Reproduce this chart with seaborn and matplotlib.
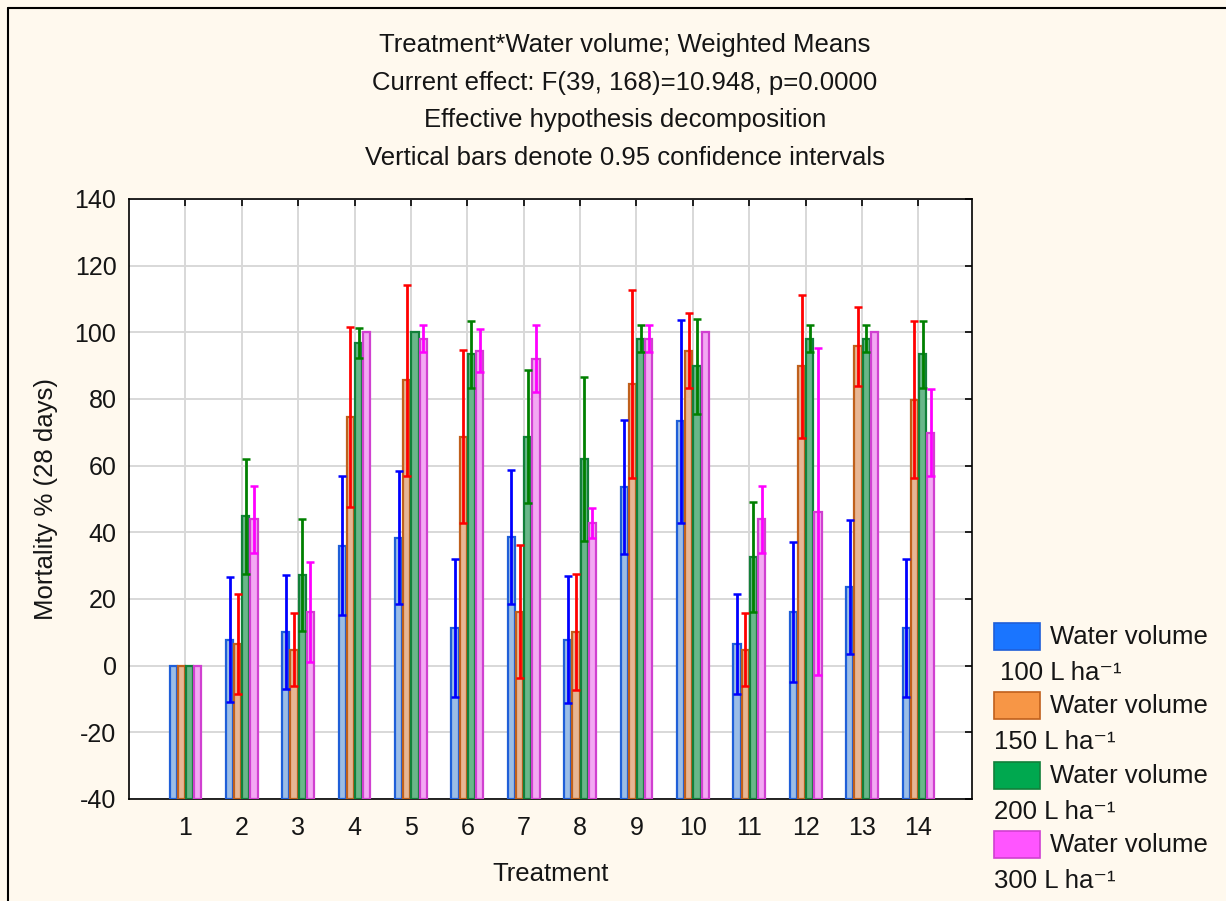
import numpy as np
import pandas as pd
import matplotlib
matplotlib.use("Agg")
import matplotlib.pyplot as plt
import seaborn as sns
from matplotlib.patches import Rectangle
from matplotlib.lines import Line2D

treatments = [str(i) for i in range(1, 15)]
volumes = ["100", "150", "200", "300"]

mean_100 = [0, 7.8, 10.1, 36.0, 38.4, 11.3, 38.6, 7.8, 53.6, 73.3, 6.6, 16.0, 23.6, 11.3]
ci_100 = [0, 18.8, 17.0, 20.8, 20.0, 20.7, 20.0, 19.0, 20.0, 30.5, 15.0, 21.0, 20.0, 20.7]
mean_150 = [0, 6.6, 4.8, 74.5, 85.6, 68.7, 16.2, 10.1, 84.5, 94.5, 4.8, 89.8, 95.8, 79.8]
ci_150 = [0, 15.0, 11.0, 27.0, 28.6, 26.0, 20.0, 17.3, 28.2, 11.2, 11.0, 21.5, 11.8, 23.5]
mean_200 = [0, 44.8, 27.2, 96.8, 100, 93.4, 68.7, 62.1, 98.1, 89.8, 32.5, 98.1, 98.1, 93.4]
ci_200 = [0, 17.2, 16.7, 4.5, 0, 10.0, 20.0, 24.6, 4.0, 14.3, 16.5, 4.0, 4.0, 10.0]
mean_300 = [0, 43.9, 16.0, 100, 98.1, 94.5, 92.1, 42.7, 98.1, 100, 43.9, 46.2, 100, 69.9]
ci_300 = [0, 10.0, 15.0, 0, 4.0, 6.5, 10.0, 4.5, 4.0, 0, 10.0, 49.0, 0, 13.0]

means = [mean_100, mean_150, mean_200, mean_300]
cis = [ci_100, ci_150, ci_200, ci_300]

title_lines = ["Treatment*Water volume; Weighted Means",
               "Current effect: F(39, 168)=10.948, p=0.0000",
               "Effective hypothesis decomposition",
               "Vertical bars denote 0.95 confidence intervals"]

fill_colors = ["#8fbcf2", "#f5b486", "#5cc486", "#ff9cff"]
edge_colors = ["#1f5fd8", "#c0601c", "#12803a", "#d040d0"]
err_colors = ["#0000ff", "#ff0000", "#008000", "#ff00ff"]
legend_colors = ["#1a75ff", "#f79646", "#00a84f", "#ff55ff"]

YMIN, YMAX = -40, 140

rows = []
for v, m in zip(volumes, means):
    for t, val in zip(treatments, m):
        rows.append({"Treatment": t, "Volume": v, "Mortality": val, "Height": val - YMIN})
df = pd.DataFrame(rows)

sns.set_theme(style="white")
plt.rcParams["font.family"] = ["Liberation Sans", "DejaVu Sans"]
plt.rcParams["axes.unicode_minus"] = False

TXT = "#151515"
FS = 18.5

fig = plt.figure(figsize=(12.26, 9.01), dpi=100)
fig.patch.set_facecolor("#fff9ee")
ax = fig.add_axes([129 / 1226, 1 - 799 / 901, (972 - 129) / 1226, (799 - 199) / 901])
ax.set_facecolor("white")

sns.barplot(data=df, x="Treatment", y="Height", hue="Volume", order=treatments,
            hue_order=volumes, palette=fill_colors, width=0.58, gap=0.12,
            bottom=YMIN, errorbar=None, legend=False, ax=ax, linewidth=1.6, zorder=3)

bar_containers = list(ax.containers)
for i, cont in enumerate(bar_containers):
    for bar in cont:
        bar.set_edgecolor(edge_colors[i])
    xs = np.array([b.get_x() + b.get_width() / 2 for b in cont])
    m = np.array(means[i])
    c = np.array(cis[i])
    mask = c > 0
    ax.errorbar(xs[mask], m[mask], yerr=c[mask], fmt="none", ecolor=err_colors[i],
                elinewidth=2.0, capsize=2.6, capthick=1.8, zorder=4)

ax.set_ylim(YMIN, YMAX)
ax.set_xlim(-1.0, 13.95)
ax.set_yticks(np.arange(-40, 141, 20))
ax.grid(True, color="#d8d8d8", linewidth=1.4, zorder=0)
ax.set_axisbelow(True)
for s in ax.spines.values():
    s.set_color("black")
    s.set_linewidth(1.2)
ax.tick_params(axis="both", direction="in", length=5, width=1.2, colors="black",
               top=True, right=True, labelsize=18, labelcolor=TXT)
ax.tick_params(axis="x", pad=12)
ax.tick_params(axis="y", pad=9)
ax.set_xlabel("Treatment", fontsize=FS, labelpad=16, color=TXT)
ax.set_ylabel("Mortality % (28 days)", fontsize=FS, labelpad=12, color=TXT)

for k, line in enumerate(title_lines):
    fig.text(625 / 1226, 1 - (45 + 37.7 * k) / 901, line, ha="center", va="center",
             fontsize=FS, color=TXT)

# frame around the figure (top and left)
fig.add_artist(Line2D([8 / 1226, 8 / 1226], [0, 1 - 8 / 901], color="black", lw=1.5,
                      transform=fig.transFigure))
fig.add_artist(Line2D([8 / 1226, 1], [1 - 8 / 901, 1 - 8 / 901], color="black", lw=1.5,
                      transform=fig.transFigure))

# legend
for k, v in enumerate(volumes):
    top = 623 + 69.3 * k
    fig.add_artist(Rectangle((994 / 1226, 1 - (top + 27) / 901), 46 / 1226, 27 / 901,
                             facecolor=legend_colors[k], edgecolor=edge_colors[k], lw=1.2,
                             transform=fig.transFigure))
    fig.text(1050 / 1226, 1 - (top + 14) / 901, "Water volume", ha="left", va="center",
             fontsize=FS, color=TXT)
    fig.text((1000 if k == 0 else 994) / 1226, 1 - (top + 50) / 901,
             v + " L ha\u207b\u00b9", ha="left", va="center", fontsize=FS,
             color=TXT)

fig.savefig("out.png", dpi=100, facecolor=fig.get_facecolor())
